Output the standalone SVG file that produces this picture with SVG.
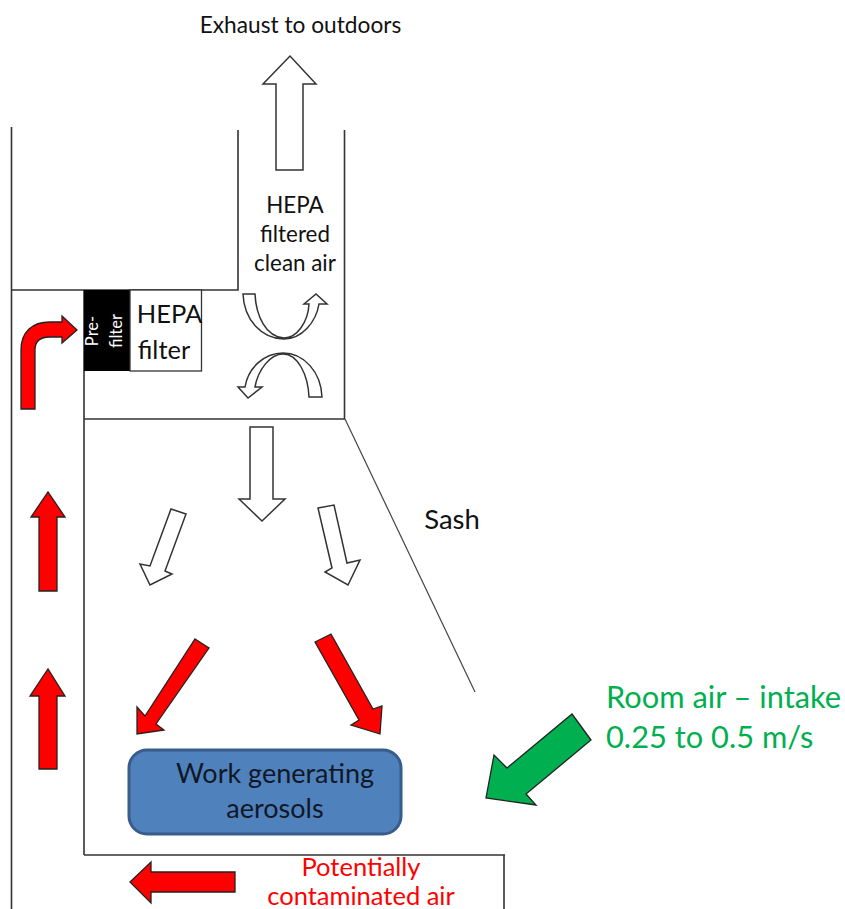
<svg xmlns="http://www.w3.org/2000/svg" width="845" height="909" viewBox="0 0 845 909">
<style>
text{font-family:Lato,"Noto Sans",sans-serif;text-anchor:middle;fill:#111}
.w{fill:#fff;stroke:#333;stroke-width:1.500}
.r{fill:#f00;stroke:#222;stroke-width:1.300}
.l{fill:none;stroke:#333;stroke-width:1.600}
</style>
<rect width="845" height="909" fill="#fff"/>
<g id="connectors">
<path class="l" d="M11.500 127V909M12 290H84M84 290V855M238 130V290H12M344.500 130V419M84 419H345M84 855H505M504 855V909"/>
<path d="M345 419L475 692" fill="none" stroke="#444" stroke-width="1.200"/>
</g>
<g id="exhaust-label"><text x="300.500" y="33" font-size="22.700">Exhaust to outdoors</text></g>
<g id="arrow-exhaust"><path class="w" d="M276 170V84H263L290 56L316 84H303V170Z"/></g>
<g id="clean-air-label"><text font-size="22.400"><tspan x="295" y="213">HEPA</tspan><tspan x="295" y="242">filtered</tspan><tspan x="295" y="271">clean air</tspan></text></g>
<g id="pre-filter"><rect x="84" y="290" width="46" height="81" fill="#000"/>
<text transform="translate(98,331) rotate(-90)" font-size="16.500" style="fill:#fff"><tspan x="0" y="0">Pre-</tspan><tspan x="0" y="24">filter</tspan></text></g>
<g id="hepa-filter"><rect x="130" y="290" width="71.500" height="81" fill="#fff" stroke="#333" stroke-width="1.300"/>
<text font-size="25.500"><tspan x="169.500" y="323">HEPA</tspan><tspan x="164" y="359">filter</tspan></text></g>
<g id="swirl-top"><path class="w" d="M243 294H255C256 316 266 337 284 338C297 338 308 322 309 304H304L316 294L327 304H319C316 322 302 339 284 339C262 339 244 320 243 294Z"/></g>
<g id="swirl-bottom"><path class="w" d="M322 397H309C308 375 298 354 283 354C270 354 258 370 255 387H262L248 398L238 387H245C248 368 264 353 283 353C304 353 321 372 322 397Z"/></g>
<g id="arrow-down-center"><path class="w" d="M250 427H273V499H285L262 521L239 499H250Z"/></g>
<g id="arrow-down-left"><path class="w" d="M171 509L186 514L165 571L172 574L150 585L140 564L150 566Z"/></g>
<g id="arrow-down-right"><path class="w" d="M318 508L334 505L347 563L360 560L348 585L325 572L332 568Z"/></g>
<g id="arrow-red-left"><path class="r" d="M195 639L209 648L156 724L164 730L137 734L137 707L145 716Z"/></g>
<g id="arrow-red-right"><path class="r" d="M315 642L331 634L373 709L382 706L380 734L351 725L359 720Z"/></g>
<g id="arrow-red-bend"><path class="r" d="M21 409V350C21 332 32 322 50 322H62V316L77 330L62 343V337H50C39 337 35 342 35 350V409Z"/></g>
<g id="arrow-red-up-1"><path class="r" d="M39 591V517H31L48 492L65 517H57V591Z"/></g>
<g id="arrow-red-up-2"><path class="r" d="M39 769V696H30L48 669L65 696H57V769Z"/></g>
<g id="arrow-red-bottom"><path class="r" d="M235 872V892H151V903L130 882L151 862V872Z"/></g>
<g id="arrow-green"><path d="M572 714L591 740L526 794L536 805L486 798L494 755L507 768Z" fill="#00b050" stroke="#222" stroke-width="1.300"/></g>
<g id="work"><rect x="129" y="750" width="272" height="84" rx="18" fill="#4f81bd" stroke="#385d8a" stroke-width="3"/>
<text font-size="27" style="fill:#101828"><tspan x="275" y="783">Work generating</tspan><tspan x="275" y="818">aerosols</tspan></text></g>
<g id="sash-label"><text x="452" y="529" font-size="27.500">Sash</text></g>
<g id="room-air-label"><text font-size="30.800" style="fill:#00b050;text-anchor:start"><tspan x="606" y="708">Room air – intake</tspan><tspan x="606" y="748">0.25 to 0.5 m/s</tspan></text></g>
<g id="contaminated-label"><text font-size="25.500" style="fill:#f00"><tspan x="361" y="876">Potentially</tspan><tspan x="361" y="905">contaminated air</tspan></text></g>
</svg>
